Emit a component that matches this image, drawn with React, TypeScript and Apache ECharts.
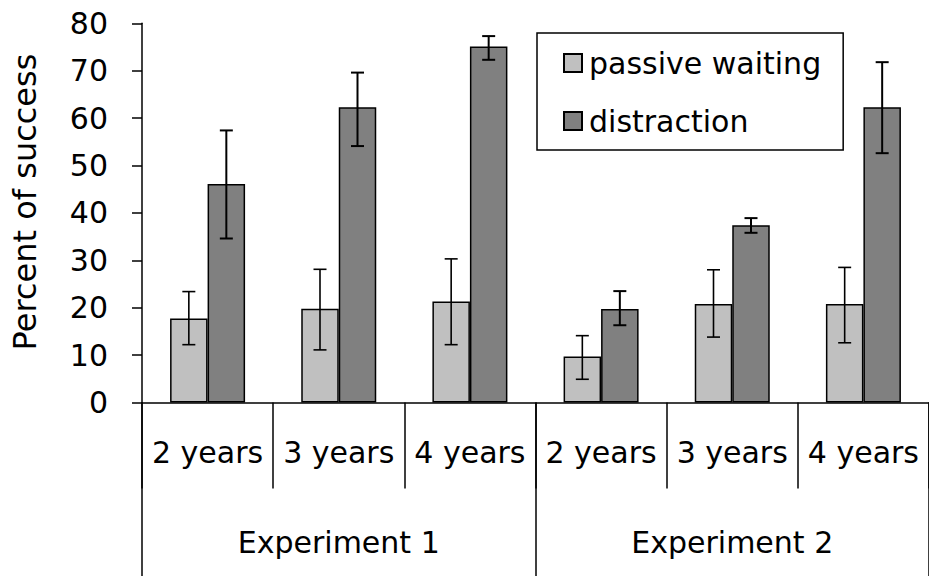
import React, { useEffect, useRef } from "react";
import * as echarts from "echarts";

const ageCategories = ["2 years", "3 years", "4 years", "2 years", "3 years", "4 years"];
const experiments = ["Experiment 1", "Experiment 2"];
const yTicks = { min: 0, max: 80, interval: 10 };

const passiveWaiting = [17.7, 19.8, 21.3, 9.7, 20.8, 20.8];
const passiveLow = [12.2, 11.1, 12.2, 4.9, 13.8, 12.6];
const passiveHigh = [23.4, 28.1, 30.3, 14.1, 28.0, 28.5];

const distraction = [46.1, 62.3, 75.1, 19.7, 37.4, 62.3];
const distractionLow = [34.6, 54.1, 72.3, 16.3, 35.8, 52.6];
const distractionHigh = [57.4, 69.6, 77.3, 23.5, 38.9, 71.8];

const FONT = "DejaVu Sans";
const BAR_W = 37.5;

function errorSeries(name: string, lows: number[], highs: number[], offset: number, lw: number) {
  return {
    type: "custom",
    name,
    xAxisIndex: 0,
    yAxisIndex: 0,
    z: 10,
    silent: true,
    encode: { x: 0, y: [1, 2] },
    data: lows.map((lo, i) => [i, lo, highs[i]]),
    renderItem: (params: any, api: any) => {
      const idx = api.value(0);
      const lo = api.coord([idx, api.value(1)]);
      const hi = api.coord([idx, api.value(2)]);
      const x = lo[0] + offset;
      const cap = 6.5;
      const style = { stroke: "#000", lineWidth: lw };
      return {
        type: "group",
        children: [
          { type: "line", shape: { x1: x, y1: lo[1], x2: x, y2: hi[1] }, style },
          { type: "line", shape: { x1: x - cap, y1: lo[1], x2: x + cap, y2: lo[1] }, style },
          { type: "line", shape: { x1: x - cap, y1: hi[1], x2: x + cap, y2: hi[1] }, style },
        ],
      };
    },
  };
}

export default function App() {
  const ref = useRef<HTMLDivElement>(null);
  useEffect(() => {
    if (!ref.current) return;
    const chart = echarts.init(ref.current, null, { renderer: "svg" });
    chart.setOption({
      animation: false,
      backgroundColor: "#fff",
      textStyle: { fontFamily: FONT },
      grid: { left: 142, top: 23.3, width: 793, height: 379.2, containLabel: false },
      legend: {
        data: ["passive waiting", "distraction"],
        orient: "vertical",
        left: 537,
        top: 33,
        icon: "rect",
        itemWidth: 18,
        itemHeight: 18,
        itemGap: 28,
        padding: [15, 22, 14, 26],
        borderColor: "#000",
        borderWidth: 1.5,
        backgroundColor: "#fff",
        textStyle: { fontFamily: FONT, fontSize: 30, color: "#000", padding: [0, 0, 0, 2] },
      },
      xAxis: [
        {
          type: "category",
          position: "bottom",
          data: ageCategories,
          axisLine: { show: true, lineStyle: { color: "#000", width: 1.5 } },
          axisTick: { show: true, alignWithLabel: false, length: 86, lineStyle: { color: "#000", width: 1.5 } },
          axisLabel: {
            interval: 0,
            margin: 50,
            verticalAlign: "middle",
            fontSize: 30,
            fontFamily: FONT,
            color: "#000",
          },
          splitLine: { show: false },
        },
        {
          type: "category",
          position: "bottom",
          offset: 0,
          data: experiments,
          axisLine: { show: false },
          axisTick: { show: true, alignWithLabel: false, length: 174, lineStyle: { color: "#000", width: 1.5 } },
          axisLabel: {
            interval: 0,
            margin: 140,
            verticalAlign: "middle",
            fontSize: 30,
            fontFamily: FONT,
            color: "#000",
          },
          splitLine: { show: false },
        },
      ],
      yAxis: {
        type: "value",
        min: yTicks.min,
        max: yTicks.max,
        interval: yTicks.interval,
        axisLine: { show: true, lineStyle: { color: "#000", width: 1.5 } },
        axisTick: { show: true, inside: false, length: 10, lineStyle: { color: "#000", width: 1.5 } },
        axisLabel: { margin: 34, fontSize: 30, fontFamily: FONT, color: "#000" },
        splitLine: { show: false },
      },
      graphic: [
        {
          type: "text",
          x: 25,
          y: 202,
          rotation: Math.PI / 2,
          style: {
            text: "Percent of success",
            fontSize: 32,
            fontFamily: FONT,
            fill: "#000",
            align: "center",
            verticalAlign: "middle",
          },
        },
      ],
      series: [
        {
          type: "bar",
          name: "passive waiting",
          xAxisIndex: 0,
          data: passiveWaiting,
          barWidth: BAR_W,
          barGap: "0%",
          itemStyle: { color: "#C0C0C0", borderColor: "#000", borderWidth: 1.5 },
        },
        {
          type: "bar",
          name: "distraction",
          xAxisIndex: 0,
          data: distraction,
          barWidth: BAR_W,
          barGap: "0%",
          itemStyle: { color: "#808080", borderColor: "#000", borderWidth: 1.5 },
        },
        errorSeries("passive waiting error", passiveLow, passiveHigh, -BAR_W / 2, 1.6),
        errorSeries("distraction error", distractionLow, distractionHigh, BAR_W / 2, 2),
      ],
    });
    return () => chart.dispose();
  }, []);
  return (
    <div
      ref={ref}
      style={{ position: "absolute", left: 0, top: 0, width: 929, height: 576 }}
    />
  );
}
